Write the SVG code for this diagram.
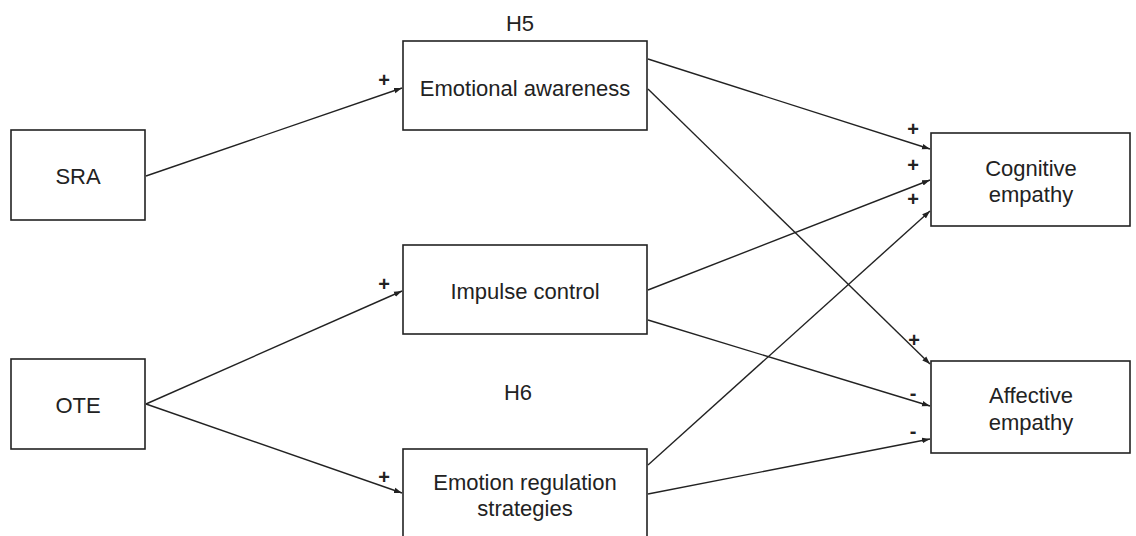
<svg xmlns="http://www.w3.org/2000/svg" width="1136" height="536" viewBox="0 0 1136 536">
<style>
.box{fill:#fff;stroke:#222;stroke-width:1.6}
.lbl{font-family:"Liberation Sans",Arial,sans-serif;font-size:22px;fill:#222;text-anchor:middle;dominant-baseline:central}
.sign{font-family:"Liberation Sans",Arial,sans-serif;font-size:20px;font-weight:bold;fill:#222;text-anchor:middle;dominant-baseline:central}
.edge{stroke:#222;stroke-width:1.4;fill:none;marker-end:url(#arr)}
</style>
<defs>
<marker id="arr" viewBox="0 0 10 10" refX="10" refY="5" markerWidth="8" markerHeight="8" markerUnits="userSpaceOnUse" orient="auto">
<path d="M0,1.5 L10,5 L0,8.5 z" fill="#222"/>
</marker>
</defs>
<rect width="1136" height="536" fill="#fff"/>
<g id="connectors">
<line class="edge" x1="146" y1="176" x2="402" y2="88"/>
<line class="edge" x1="146" y1="404" x2="402" y2="291"/>
<line class="edge" x1="146" y1="404" x2="402" y2="493"/>
<line class="edge" x1="648" y1="59" x2="930" y2="149"/>
<line class="edge" x1="648" y1="89" x2="930" y2="364"/>
<line class="edge" x1="648" y1="290" x2="930" y2="180"/>
<line class="edge" x1="648" y1="465" x2="930" y2="211"/>
<line class="edge" x1="648" y1="320" x2="930" y2="406"/>
<line class="edge" x1="648" y1="494" x2="930" y2="439"/>
</g>
<g id="signs">
<text class="sign" x="384" y="80">+</text>
<text class="sign" x="384" y="284">+</text>
<text class="sign" x="384" y="477">+</text>
<text class="sign" x="913" y="129">+</text>
<text class="sign" x="913" y="165">+</text>
<text class="sign" x="913" y="199">+</text>
<text class="sign" x="914" y="340">+</text>
<text class="sign" x="913" y="393">-</text>
<text class="sign" x="913" y="431">-</text>
</g>
<g id="H5"><text class="lbl" x="520" y="23">H5</text></g>
<g id="H6"><text class="lbl" x="518" y="392">H6</text></g>
<g id="SRA"><rect class="box" x="11" y="130" width="134" height="90"/><text class="lbl" x="78" y="176">SRA</text></g>
<g id="OTE"><rect class="box" x="11" y="359" width="134" height="90"/><text class="lbl" x="78" y="405">OTE</text></g>
<g id="EA"><rect class="box" x="403" y="41" width="244" height="89"/><text class="lbl" x="525" y="88">Emotional awareness</text></g>
<g id="IC"><rect class="box" x="403" y="245" width="244" height="89"/><text class="lbl" x="525" y="291">Impulse control</text></g>
<g id="ERS"><rect class="box" x="403" y="449" width="244" height="100"/><text class="lbl" x="525" y="482">Emotion regulation</text><text class="lbl" x="525" y="508">strategies</text></g>
<g id="CE"><rect class="box" x="931" y="133" width="199" height="93"/><text class="lbl" x="1031" y="168">Cognitive</text><text class="lbl" x="1031" y="194">empathy</text></g>
<g id="AE"><rect class="box" x="931" y="361" width="199" height="92"/><text class="lbl" x="1031" y="395">Affective</text><text class="lbl" x="1031" y="422">empathy</text></g>
</svg>
